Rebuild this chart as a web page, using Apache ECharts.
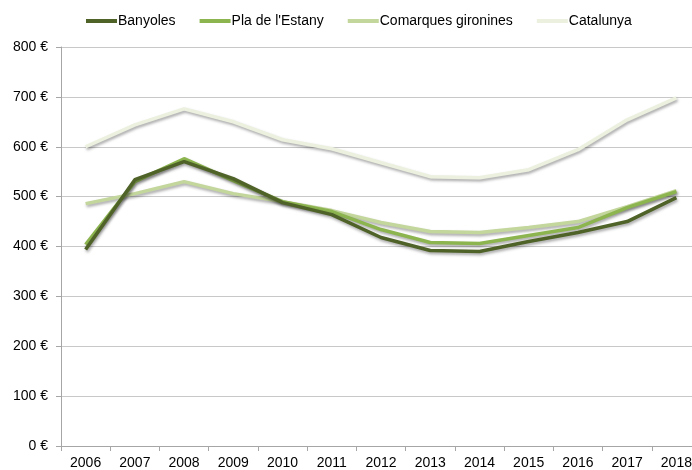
<!DOCTYPE html>
<html>
<head>
<meta charset="utf-8">
<script src="https://cdn.jsdelivr.net/npm/echarts@6/dist/echarts.min.js"></script>
<style>
  html, body { margin: 0; padding: 0; background: #fff; overflow: hidden; }
  #grafico { width: 701px; height: 470px; }
</style>
</head>
<body>
<div id="grafico"></div>
<script>
var anys = ['2006', '2007', '2008', '2009', '2010', '2011', '2012', '2013', '2014', '2015', '2016', '2017', '2018'];
var banyoles = [394, 534, 570, 536, 488, 464, 418, 392, 390, 410, 428, 450, 498];
var pla_estany = [404, 530, 576, 532, 490, 470, 434, 408, 406, 422, 438, 478, 510];
var comarques = [486, 506, 530, 506, 490, 472, 448, 430, 428, 438, 450, 480, 512];
var catalunya = [600, 644, 676, 650, 614, 596, 568, 540, 538, 554, 594, 654, 698];

var noms = ['Banyoles', "Pla de l'Estany", 'Comarques gironines', 'Catalunya'];
var colors = ['#4f6228', '#8cb44f', '#c3d69b', '#ebf1de'];

function serie(nom, valors, color) {
    return {
        name: nom,
        type: 'line',
        data: valors,
        symbol: 'none',
        smooth: false,
        lineStyle: {
            width: 3.5,
            color: color,
            shadowColor: 'rgba(0,0,0,0.35)',
            shadowBlur: 3,
            shadowOffsetX: 1,
            shadowOffsetY: 2
        }
    };
}

// el contenidor és una mica més ample que la finestra: l'últim any queda tallat com a l'original
var myChart = echarts.init(document.getElementById('grafico'));

var option = {
    animation: false,
    color: colors,
    textStyle: { fontFamily: 'Liberation Sans, Arial, sans-serif' },
    legend: {
        top: 14,
        left: 86,
        padding: 0,
        itemWidth: 31,
        itemHeight: 4,
        itemGap: 24,
        textStyle: { fontSize: 14, color: '#000', padding: [0, 0, 0, -4] },
        data: noms.map(function (n, i) {
            return { name: n, icon: 'rect', itemStyle: { color: colors[i] } };
        })
    },
    grid: { left: 61, right: 0, top: 47, height: 400, containLabel: false },
    xAxis: {
        type: 'category',
        data: anys,
        boundaryGap: true,
        axisLine: { lineStyle: { color: '#a6a6a6', width: 1 } },
        axisTick: { show: true, length: 5, lineStyle: { color: '#a6a6a6' } },
        axisLabel: { color: '#000', fontSize: 14, margin: 10 }
    },
    yAxis: {
        type: 'value',
        min: 0,
        max: 800,
        interval: 100,
        axisLine: { show: true, lineStyle: { color: '#a6a6a6', width: 1 } },
        axisTick: { show: true, length: 5, inside: false, lineStyle: { color: '#a6a6a6' } },
        axisLabel: {
            color: '#000',
            fontSize: 14,
            margin: 13,
            formatter: function (v) { return v + ' €'; }
        },
        splitLine: { lineStyle: { color: '#c8c8c8', width: 1 } }
    },
    series: [
        serie(noms[3], catalunya, colors[3]),
        serie(noms[2], comarques, colors[2]),
        serie(noms[1], pla_estany, colors[1]),
        serie(noms[0], banyoles, colors[0])
    ]
};

myChart.setOption(option, true);
</script>
</body>
</html>
